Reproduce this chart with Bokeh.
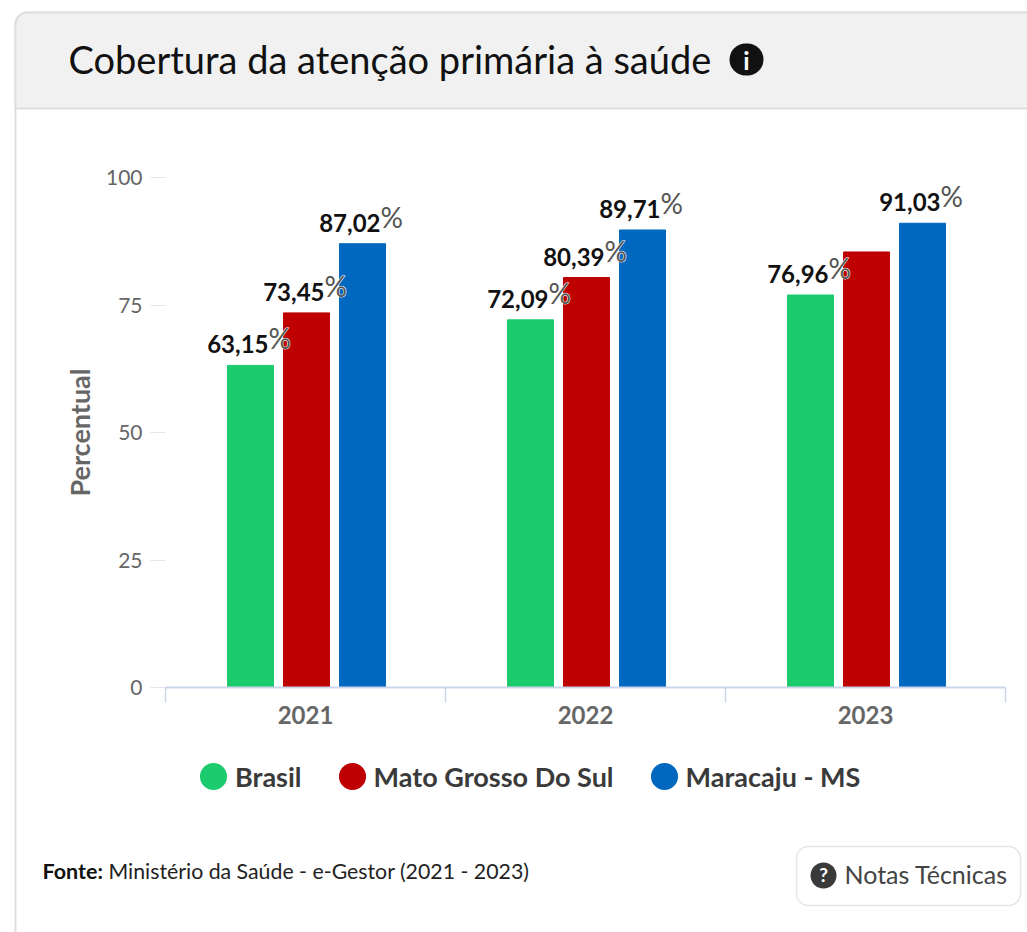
from bokeh.embed import file_html
from bokeh.resources import INLINE
from bokeh.plotting import figure
from bokeh.models import (ColumnDataSource, Range1d, LinearAxis,
                          FixedTicker, BoxAnnotation, Label, Legend, LegendItem)
from bokeh.transform import dodge
from bokeh.core.properties import value

# ---- chart data ----
years = ["2021", "2022", "2023"]
series_names = ["Brasil", "Mato Grosso Do Sul", "Maracaju - MS"]
brasil = [63.15, 72.09, 76.96]
mato_grosso = [73.45, 80.39, 85.4]
maracaju = [87.02, 89.71, 91.03]
brasil_labels = ["63,15", "72,09", "76,96"]
mato_grosso_labels = ["73,45", "80,39", ""]
maracaju_labels = ["87,02", "89,71", "91,03"]
colors = ["#1CCB6E", "#BE0000", "#0069BF"]
y_ticks = [0, 25, 50, 75, 100]

title_text = "Cobertura da atenção primária à saúde"
source_bold = "Fonte:"
source_text = "Ministério da Saúde - e-Gestor (2021 - 2023)"
button_text = "Notas Técnicas"
y_label = "Percentual"

FONT = "Lato"
W, H = 1027, 932
LEFT, RIGHT, TOP, BOTTOM = 165, 1005, 177, 687

centres = [i + 0.5 for i in range(len(years))]
edges = list(range(len(years) + 1))
px_x = (RIGHT - LEFT) / len(years)
px_y = (BOTTOM - TOP) / 100

p = figure(width=W, height=H, output_backend="svg", toolbar_location=None,
           x_range=Range1d(-LEFT / px_x, len(years) + (W - RIGHT) / px_x),
           y_range=Range1d(-(H - BOTTOM) / px_y, 100 + TOP / px_y),
           min_border=0, x_axis_location=None, y_axis_location=None,
           background_fill_color="white", border_fill_color="white", outline_line_color=None)

# y axis
yax = LinearAxis(ticker=FixedTicker(ticks=y_ticks), axis_label=y_label, fixed_location=0, bounds=(0, 100),
                 axis_label_text_font=FONT, axis_label_text_font_size="27px",
                 axis_label_text_font_style="bold", axis_label_text_color="#666666",
                 axis_label_standoff=7,
                 major_label_text_font=FONT, major_label_text_font_size="21px",
                 major_label_text_color="#666666", major_label_standoff=8,
                 axis_line_color=None, major_tick_in=0, major_tick_out=15,
                 major_tick_line_color="#E3E6EE", minor_tick_line_color=None)
p.add_layout(yax, "left")

p.ygrid.ticker = FixedTicker(ticks=y_ticks)
p.ygrid.grid_line_color = "#E3E6EE"
p.ygrid.grid_line_width = 1.5
p.ygrid.cross_bounds = (0, len(years))
p.xgrid.visible = False

# x axis: boundary ticks + centred year labels
edge = LinearAxis(ticker=FixedTicker(ticks=edges), fixed_location=0, bounds=(0, len(years)),
                  major_label_text_font_size="0px", major_label_text_color=None,
                  major_label_standoff=0,
                  axis_line_color="#CCD6EB", axis_line_width=2,
                  major_tick_line_color="#CCD6EB", major_tick_line_width=1.5,
                  major_tick_in=0, major_tick_out=15, minor_tick_line_color=None)
p.add_layout(edge, "below")
xax = LinearAxis(ticker=FixedTicker(ticks=centres), fixed_location=0,
                 major_label_overrides=dict(zip(centres, years)),
                 axis_line_color=None, major_tick_line_color=None, minor_tick_line_color=None,
                 major_tick_in=0, major_tick_out=0,
                 major_label_text_font=FONT, major_label_text_font_size="24px",
                 major_label_text_font_style="bold", major_label_text_color="#666666",
                 major_label_standoff=18)
p.add_layout(xax, "below")

src = ColumnDataSource(dict(year=centres, brasil=brasil, mato=mato_grosso, mara=maracaju,
                            bl=brasil_labels, ml=mato_grosso_labels, al=maracaju_labels,
                            pb=["%" if s else "" for s in brasil_labels],
                            pm=["%" if s else "" for s in mato_grosso_labels],
                            pa=["%" if s else "" for s in maracaju_labels]))

BAR_W = 46 / px_x
STEP = 56 / px_x
SHIFT = 1 / px_x
for off, col, c in [(-STEP, "brasil", colors[0]),
                    (0, "mato", colors[1]),
                    (STEP, "mara", colors[2])]:
    xd = dodge("year", off + SHIFT, range=p.x_range)
    p.vbar(x=xd, top=col, bottom=0, width=BAR_W, color=c, source=src)

for off, col, lab, pct in [(-STEP, "brasil", "bl", "pb"),
                           (0, "mato", "ml", "pm"),
                           (STEP, "mara", "al", "pa")]:
    xd = dodge("year", off + SHIFT, range=p.x_range)
    p.text(x=xd, y=col, text=pct, source=src, text_font=value(FONT), text_font_size="28px",
           text_color="white", text_align="left", text_baseline="bottom",
           x_offset=18, y_offset=-10, text_outline_color="white")
    p.text(x=xd, y=col, text=pct, source=src, text_font=value(FONT), text_font_size="28px",
           text_color="#555555", text_align="left", text_baseline="bottom",
           x_offset=18, y_offset=-10)
    p.text(x=xd, y=col, text=lab, source=src, text_font=value(FONT), text_font_size="24px",
           text_font_style="bold", text_color="#111111", text_align="right", text_baseline="bottom",
           x_offset=18, y_offset=-12)

# legend: circle proxies (no visible point of their own, only their legend swatches)
proxy = ColumnDataSource(dict(x=[float("nan")], y=[float("nan")]))
items = []
for name, c in zip(series_names, colors):
    r = p.circle(x="x", y="y", radius=0.05, fill_color=c, line_color=c, line_width=13.5, source=proxy)
    items.append(LegendItem(label=name, renderers=[r]))
legend = Legend(items=items, orientation="horizontal", location=(196, H - 793),
                glyph_width=34, glyph_height=34, label_standoff=5, spacing=33, padding=0, margin=0,
                border_line_color=None, background_fill_alpha=0,
                label_text_font=FONT, label_text_font_size="27px", label_text_font_style="bold",
                label_text_color="#3A3A3A")
p.add_layout(legend, "center")


def box(l, t, r, b, **kw):
    bx = BoxAnnotation(left=l, right=r, top=t, bottom=b,
                       left_units="canvas", right_units="canvas", top_units="canvas", bottom_units="canvas",
                       fill_alpha=1, line_alpha=1,
                       level=kw.pop("level", "underlay"), **kw)
    p.add_layout(bx)


def text(x, y, s, size, color="#111111", style="normal", align="left"):
    p.add_layout(Label(x=x, y=y, text=s, x_units="canvas", y_units="canvas",
                       text_font=FONT, text_font_size=size, text_font_style=style, text_color=color,
                       text_align=align, text_baseline="middle"))


# card
box(15, 12, 1100, 1100, fill_color="white", line_color="#DEDEDE", line_width=2, border_radius=12)
box(15, 12, 1100, 108, fill_color="#F1F1F1", line_color="#DEDEDE", line_width=2,
    border_radius=dict(top_left=12, top_right=0, bottom_right=0, bottom_left=0))

# title and info icon
text(68, 58, title_text, "38px")
box(729, 43, 763, 75, fill_color="#111111", line_color=None, border_radius=17, level="annotation")
text(746, 59, "i", "25px", color="white", style="bold", align="center")

# source
text(42, 870, source_bold, "21.5px", style="bold")
text(108, 870, source_text, "21.3px", color="#222222")

# button
box(796, 846, 1020, 905, fill_color="white", line_color="#E6E6E6", line_width=1.5, border_radius=12)
box(810, 862, 836, 888, fill_color="#3A3A3A", line_color=None, border_radius=13, level="annotation")
text(823, 874, "?", "19px", color="white", style="bold", align="center")
text(844, 873, button_text, "25px", color="#444444")

open("out.html", "w").write(file_html(p, INLINE))
